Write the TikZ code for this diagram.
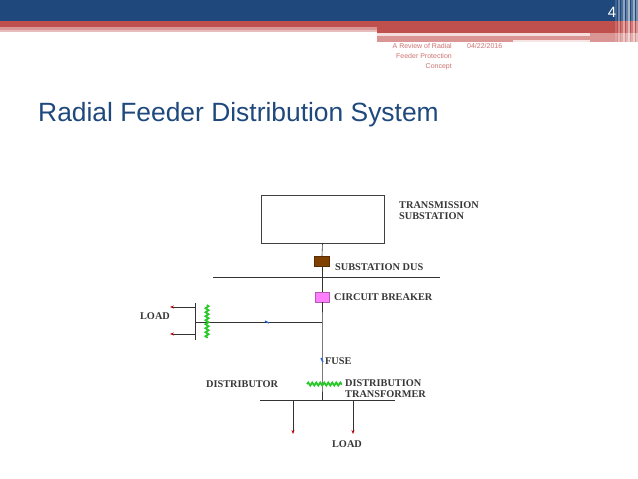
\documentclass[tikz,border=0pt]{standalone}
\usepackage{fontspec}
\setmainfont{Liberation Serif}
\newfontfamily\hdrfont{Liberation Sans}
\usetikzlibrary{arrows.meta,decorations.pathmorphing}
\definecolor{hblue}{RGB}{31,73,125}
\definecolor{hred}{RGB}{192,80,77}
\definecolor{hpink}{RGB}{217,150,148}
\definecolor{hlpink}{RGB}{232,190,189}
\definecolor{txtgray}{RGB}{55,55,55}
\definecolor{brownbox}{RGB}{128,64,0}
\definecolor{cbpink}{RGB}{255,128,255}
\definecolor{greenw}{RGB}{40,200,40}
\definecolor{fuseblue}{RGB}{40,100,220}
\tikzset{
  lbl/.style={anchor=west, inner sep=0pt, text=txtgray, align=left,
    font=\fontsize{10.3}{11}\selectfont\bfseries},
  wire/.style={draw=black!80, line width=0.6pt},
  loadarrow/.style={wire, -{Stealth[length=4pt,width=3pt,color=red!75!black]}},
  squiggle/.style={draw=greenw, line width=1.8pt,
    decorate, decoration={snake, amplitude=1.5pt, segment length=4pt}},
  hdrtext/.style={inner sep=0pt, text=hred!80!white, font=\hdrfont\fontsize{7}{10}\selectfont}
}
\begin{document}
\begin{tikzpicture}[x=1pt,y=-1pt]
\useasboundingbox (0,0) rectangle (638,479);
\fill[white] (0,0) rectangle (638,479);
% ---------- header bands ----------
\fill[hblue] (0,0) rectangle (638,20.5);
\fill[hred] (0,20.5) rectangle (638,27);
\fill[hpink] (0,27) rectangle (377,30);
\fill[hlpink] (0,30) rectangle (377,32);
\fill[hred] (377,27) rectangle (638,32.5);
\fill[hlpink!50!white] (377,32.5) rectangle (590,35.5);
\fill[hpink] (590,32.5) rectangle (638,42);
\fill[hpink] (377,35.5) rectangle (513,42);
\fill[hpink] (513,35.5) rectangle (590,40);
\fill[hlpink!40!white] (513,40) rectangle (590,42);
% right-edge stripes
\foreach \xx/\op in {615/0.15, 618/0.35, 621/0.2, 623/0.5, 626/0.3, 628/0.6, 631/0.25, 633/0.55, 636/0.4}
  \fill[white, opacity=\op] (\xx,0) rectangle ++(1.6,45);
\node[text=white, inner sep=0pt, font=\hdrfont\fontsize{15}{15}\selectfont] (pagenum) at (612,12.5) {4};
\node[hdrtext, anchor=north east, align=right] (hdrtitle) at (452,43.5) {A Review of Radial\\Feeder Protection\\Concept};
\node[hdrtext, anchor=north west] (hdrdate) at (467,43.5) {04/22/2016};
% ---------- title ----------
\node[anchor=west, inner sep=0pt, text=hblue, font=\hdrfont\fontsize{26.4}{30}\selectfont] (title) at (38,115) {Radial Feeder Distribution System};
% ---------- diagram ----------
\node[draw=black!75, line width=0.6pt, minimum width=123pt, minimum height=48pt, inner sep=0pt] (tsub) at (322.5,219) {};
\node[lbl] (tsublbl) at (399,210.5) {TRANSMISSION\\SUBSTATION};
\node[fill=brownbox, draw=brownbox!70!black, minimum width=15pt, minimum height=10pt, inner sep=0pt] (sbus) at (322,261) {};
\node[lbl] (sbuslbl) at (335,267) {SUBSTATION DUS};
\coordinate (busL) at (213,277);
\coordinate (busR) at (440,277);
\draw[wire] (busL) -- (busR);
\node[fill=cbpink, draw=cbpink!70!black, minimum width=14pt, minimum height=10pt, inner sep=0pt] (cb) at (322,297) {};
\node[lbl] (cblbl) at (334,297) {CIRCUIT BREAKER};
\coordinate (tap) at (322,322);
\coordinate (fuse) at (322,361);
\coordinate (dtr) at (322,384);
\coordinate (dbus) at (322,400);
\draw[wire] (tsub.south) -- (sbus.north);
\draw[wire] (sbus.south) -- (cb.north);
\draw[wire] (cb.south) -- (tap) -- (fuse) -- (dtr) -- (dbus);
% left branch
\coordinate (lbar) at (195,322);
\coordinate (lbarT) at (195,303);
\coordinate (lbarB) at (195,340);
\coordinate (la1) at (170,307);
\coordinate (la2) at (170,334);
\draw[wire] (tap) -- (lbar);
\draw[wire] (lbarT) -- (lbarB);
\draw[loadarrow] (195,307) -- (la1);
\draw[loadarrow] (195,334) -- (la2);
\node[lbl, anchor=center] (loadL) at (155,316) {LOAD};
\draw[squiggle] (207,305) -- (207,338);
\draw[fuseblue, line width=1.2pt] (265,321) -- (269,323);
% fuse & distribution transformer
\draw[fuseblue, line width=1.4pt] (321,358) -- (323,362);
\node[lbl] (fuselbl) at (325,361) {FUSE};
\draw[squiggle] (307,384) -- (342,384);
\node[lbl] (dtrlbl) at (345,388.5) {DISTRIBUTION\\TRANSFORMER};
\node[lbl] (distlbl) at (206,384) {DISTRIBUTOR};
% distributor and loads
\coordinate (dL) at (260,400);
\coordinate (dR) at (395,400);
\draw[wire] (dL) -- (dR);
\coordinate (d1) at (293,400);
\coordinate (d2) at (353,400);
\coordinate (d1e) at (293,434);
\coordinate (d2e) at (353,434);
\draw[loadarrow] (d1) -- (d1e);
\draw[loadarrow] (d2) -- (d2e);
\node[lbl, anchor=center] (loadB) at (347,444) {LOAD};
\end{tikzpicture}
\end{document}
